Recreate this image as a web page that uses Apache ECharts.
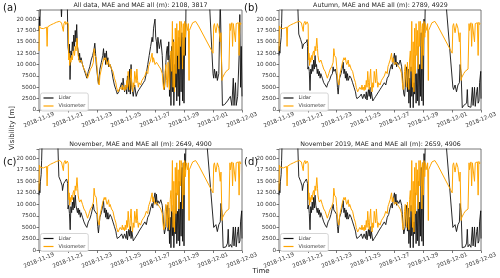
<!DOCTYPE html>
<html><head><meta charset="utf-8">
<script src="https://cdn.jsdelivr.net/npm/echarts@6/dist/echarts.min.js"></script>
<style>html,body{margin:0;padding:0;background:#fff}#c{width:500px;height:278px}</style>
</head><body><div id="c"></div>
<script>
// ---- data (time offsets in days from 2018-11-19 00:00 UTC) ----
const tickDates = ['2018-11-19','2018-11-21','2018-11-23','2018-11-25','2018-11-27','2018-11-29','2018-12-01','2018-12-03'];
const panelTitles = [
  'All data, MAE and MAE all (m): 2108, 3817',
  'Autumn, MAE and MAE all (m): 2789, 4929',
  'November, MAE and MAE all (m): 2649, 4900',
  'November 2019, MAE and MAE all (m): 2659, 4906'
];
const panelLetters = ['(a)','(b)','(c)','(d)'];
const seriesNames = ['Lidar','Visiometer'];

const visT = [0,0.03,0.1,0.2,0.3,0.4,0.52,0.56,0.6,0.8,1.0,1.2,1.4,1.55,1.62,1.68,1.72,1.8,1.85,1.9,1.95,2.02,
  2.05,2.08,2.12,2.15,2.2,2.25,2.3,2.35,2.4,2.45,2.5,2.55,2.62,2.67,2.7,2.75,2.8,2.9,3.0,3.1,3.2,3.3,3.35,3.45,3.55,3.65,3.75,3.8,3.85,
  3.95,4.0,4.05,4.1,4.15,4.2,4.3,4.4,4.5,4.55,4.6,4.65,4.7,4.8,4.85,4.9,5.0,5.1,5.2,5.3,5.35,5.4,5.45,5.5,5.6,5.7,5.75,5.8,5.85,5.9,5.95,
  6.0,6.05,6.1,6.15,6.2,6.25,6.3,6.35,6.4,6.45,6.5,6.55,6.6,6.7,6.75,6.8,6.85,6.9,7.0,7.1,7.2,7.3,7.4,7.5,7.55,7.6,7.7,7.8,7.85,7.9,8.0,
  8.1,8.2,8.3,8.4,8.5,8.55,8.6,8.65,8.7,8.75,8.8,8.85,8.9,8.95,9.0,9.05,9.1,9.15,9.2,9.25,9.3,9.35,9.4,9.45,9.5,9.55,9.6,9.65,9.7,9.75,
  9.8,9.85,9.9,9.95,10.0,10.05,10.1,10.15,10.2,10.25,10.3,10.35,10.37,10.4,10.5,10.6,10.8,11.0,12.0,12.05,12.1,12.2,12.3,12.4,12.5,12.55,
  12.62,12.64,12.8,12.9,13.1,13.17,13.2,13.3,13.35,13.4,13.45,13.55,13.6,13.65,13.75,13.8,13.85,13.9,13.95,14.0];
const visV = [13000,18500,18000,18300,17900,17700,18200,14000,18300,18700,19000,19300,19500,19200,19000,17300,19000,19500,18800,19200,19400,18900,
  11000,12500,9800,11500,10500,12000,11000,12500,13000,12000,14000,13000,15800,13500,12000,11000,10500,11000,10000,9000,8500,7500,7000,8000,9000,9500,10500,13500,12000,
  11500,9500,7000,6000,5500,7500,9000,10500,11500,11000,11500,10500,10000,11000,9500,10000,9000,8500,7000,6000,5000,4500,4000,4200,5000,4500,5500,4500,5000,4300,
  5500,4500,6500,5000,8500,6000,4500,7000,9000,5500,4000,6000,5000,8500,6000,9000,6500,5000,6000,5500,6500,7000,7500,8500,8000,9500,10000,11000,12500,10500,11500,
  10000,10500,10000,9500,9000,8000,6000,4500,5000,8500,10000,6500,5000,10500,7000,4500,11000,13000,8500,19500,5000,15000,4000,18000,8000,19000,12000,17500,9000,19500,
  14000,19500,18000,9000,19000,12000,19500,16000,19000,19000,17500,19000,6500,17500,17500,18500,19200,19500,18500,12500,18500,19000,17000,19000,18000,15000,
  17000,6500,7000,8000,8500,9000,19000,17500,19200,14000,19000,19200,15000,19000,19000,19200,12000,19300,18800,19000];

const lidAT = [0,0.03,0.06,0.1,1.5,1.55,1.6,1.95,2.0,2.05,2.1,2.14,2.2,2.25,2.3,2.35,2.4,2.45,2.5,2.55,2.6,2.65,2.7,2.75,2.8,2.85,2.9,3.0,3.1,3.2,3.3,
  3.4,3.5,3.6,3.7,3.8,3.85,3.9,3.95,4.05,4.1,4.15,4.2,4.3,4.4,4.45,4.5,4.55,4.6,4.65,4.7,4.75,4.8,4.9,5.0,5.1,5.2,5.3,5.35,5.4,5.5,5.6,5.7,5.75,
  5.8,5.9,6.0,6.05,6.1,6.2,6.25,6.3,6.35,6.4,6.5,6.6,6.7,6.8,6.9,7.0,7.1,7.2,7.3,7.4,7.5,7.6,7.7,7.8,7.85,7.9,8.0,8.05,8.1,8.15,8.2,8.3,8.4,8.5,
  8.55,8.6,8.65,8.7,8.75,8.8,8.85,8.9,8.95,9.0,9.05,9.1,9.15,9.2,9.25,9.3,9.35,9.4,9.45,9.5,9.55,9.6,9.65,9.7,9.75,9.8,9.85,9.9,9.95,10.0,10.05,
  10.1,10.14,11.75,12.0,12.05,12.1,12.2,12.25,12.3,12.4,12.5,12.55,12.65,12.8,12.9,13.0,13.1,13.2,13.3,13.4,13.45,13.55,13.6,13.7,13.8,13.85,13.9,13.95,14.0];
const lidAV = [17500,20500,18500,24000,24000,20500,24000,24000,14000,12500,14500,6700,13000,12000,15000,13000,16500,14000,17500,15000,18800,14000,13000,11000,12500,10500,11500,10000,9000,8000,7000,
  8500,9500,11000,12000,13500,14700,12500,10000,7000,5700,7500,9000,10500,12000,13500,11000,12500,10000,13000,10500,11500,9500,10000,9000,7000,5500,4500,4000,3500,4000,5000,6000,4500,
  7000,4000,5500,3500,7500,4000,9000,3500,10000,5000,3000,5500,3000,4000,4500,5000,5500,6000,6500,8000,10000,12000,14000,16000,15000,18000,20000,16000,15000,12500,16000,13500,15500,12000,
  8000,5000,4500,7000,10500,13000,14000,11000,15000,3000,12000,1000,14000,4000,15500,1000,10000,5000,15000,2000,12000,3000,16000,1000,14000,4000,17000,2000,16000,1500,17000,
  12000,24000,24000,8000,7000,9000,7000,8500,6500,8000,24000,24000,1000,1200,1500,2000,2500,3000,1000,7000,1000,6000,1000,3000,12000,21000,5000,14000,3000];

const lidBT = [0,0.03,0.06,0.1,0.15,0.18,0.22,1.29,1.37,1.5,1.6,1.62,1.7,1.8,1.9,1.95,1.98,2.0,2.05,2.1,2.15,2.2,2.25,2.3,2.35,2.4,2.45,2.5,2.55,2.6,2.65,
  2.7,2.75,2.8,2.85,2.9,3.0,3.1,3.2,3.3,3.4,3.5,3.6,3.7,3.75,3.8,3.9,4.0,4.05,4.1,4.15,4.2,4.3,4.4,4.45,4.5,4.55,4.6,4.65,4.7,4.75,4.8,4.9,5.0,
  5.1,5.2,5.3,5.35,5.4,5.5,5.6,5.7,5.8,5.9,6.0,6.05,6.1,6.2,6.25,6.3,6.35,6.4,6.5,6.6,6.7,6.8,6.9,7.0,7.1,7.2,7.3,7.4,7.5,7.6,7.7,7.8,7.85,7.9,
  8.0,8.05,8.1,8.15,8.2,8.3,8.4,8.5,8.55,8.6,8.65,8.7,8.75,8.8,8.85,8.9,8.95,9.0,9.05,9.1,9.15,9.2,9.25,9.3,9.35,9.4,9.45,9.5,9.55,9.6,9.65,9.7,
  9.75,9.8,9.85,9.9,9.95,10.0,10.05,10.1,10.14,11.56,12.05,12.1,12.2,12.3,12.4,12.5,12.55,12.62,12.7,12.8,12.9,13.0,13.05,13.1,13.2,13.3,13.4,
  13.45,13.55,13.6,13.7,13.75,13.8,13.86,13.9,13.98,14.0];
const lidBV = [12000,14000,12500,14500,16000,19000,24000,24000,16700,15500,14500,13500,14500,14800,15000,15500,14000,9000,9500,8500,4300,9000,8000,10000,8500,11000,9000,12000,9500,10000,8000,
  9000,7500,8500,7000,8000,7000,6000,5500,5000,6000,6500,7500,8000,9500,8500,9000,7500,5000,3500,5500,7000,8000,9500,10500,8000,9000,7000,8500,6500,8000,6500,7500,7000,
  6000,5000,4000,3000,2500,2200,3000,3500,2500,3500,2500,4000,2200,4500,3000,5000,2500,4000,2000,2500,3000,3500,4000,4500,5000,5500,6000,5500,7000,7500,9000,10000,9000,10500,
  12500,10000,12000,9500,10500,10000,11000,9500,7500,5000,3500,3000,5000,8500,9500,4000,9000,1500,7000,500,9500,3000,8000,500,6000,3500,12000,1500,8000,2000,14000,1000,
  10000,3000,17000,2000,18000,1000,20000,17000,24000,24000,5000,4500,5500,4000,5500,6000,10000,8000,500,1000,800,1500,4500,800,1200,600,5000,
  1000,5000,800,4000,5000,1500,2000,6000,8500,2500];

const lidCV = [12000,14500,12500,15000,16500,19500,24000,24000,16000,15000,14000,13000,14500,15000,15500,15800,14500,9000,9800,8000,4500,9500,8200,10500,8800,11500,9200,12000,9800,10200,8200,
  9200,7800,8800,7200,8200,7200,6200,5500,5000,6200,6800,7800,8200,10000,8800,9200,7800,5200,3800,5500,7200,8200,9800,10800,8200,9200,7200,8800,6800,8200,6800,7800,7200,
  6200,5200,4200,3200,2600,2300,3100,3600,2600,3600,2600,4200,2300,4600,3100,5200,2600,4200,2100,2600,3100,3600,4200,4600,5200,5600,6200,5600,7200,7800,9200,10200,9200,10800,
  12500,10200,12200,9800,10800,10200,11000,9800,7800,5200,3600,3200,5200,8800,9800,4200,9200,1500,7200,600,9800,3200,8200,600,6200,3600,12500,1500,8500,2100,15000,1000,
  10500,3100,18000,2000,19000,1000,21000,17500,24000,24000,5000,4600,5600,4100,5600,6200,10200,8200,600,1000,800,1600,4600,800,1300,700,5100,
  1000,5100,800,4100,5100,1600,2100,6200,8600,2600];
const lidDV = lidCV;

const panelLidar = [[lidAT, lidAV],[lidBT, lidBV],[lidBT, lidCV],[lidBT, lidDV]];

// ---- chart ----
const DAY = 86400000;
const base = Date.UTC(2018,10,19);
const FONT = '"DejaVu Sans", sans-serif';
const toPts = (T, V) => T.map((t,i) => [base + t*DAY, V[i]]);

const grids = [
  {left:39, top:10, width:203, height:100},
  {left:279, top:10, width:203, height:100},
  {left:39, top:149, width:203, height:101.5},
  {left:279, top:149, width:203, height:101.5}
];
function fmtDate(v){
  const d = new Date(v);
  const p = n => (n<10?'0':'')+n;
  return d.getUTCFullYear()+'-'+p(d.getUTCMonth()+1)+'-'+p(d.getUTCDate());
}
function fmtY(v){
  if (v > 20000) return '';
  if (v >= 10000) return String(v).replace(/\B(?=(\d{3})+(?!\d))/g,' ');
  return String(v);
}

const option = {
  animation: false,
  backgroundColor: '#fff',
  grid: grids.map(g => Object.assign({show:true, borderColor:'#555', borderWidth:0.8, backgroundColor:'transparent'}, g)),
  xAxis: grids.map((g,i) => ({
    type:'value', gridIndex:i, min: base, max: base + 14*DAY, interval: 2*DAY,
    axisLine:{show:false}, splitLine:{show:false},
    axisTick:{show:true, length:2.5, lineStyle:{color:'#555', width:0.8}},
    axisLabel:{formatter: fmtDate, rotate: 22, align:'center', verticalAlign:'middle', margin: 10,
      fontSize: 5.6, color:'#333', fontFamily: FONT, showMinLabel:true, showMaxLabel:true, hideOverlap:false}
  })),
  yAxis: grids.map((g,i) => ({
    type:'value', gridIndex:i, min:0, max:22000, interval:2500,
    axisLine:{show:false}, splitLine:{show:false},
    axisTick:{show:true, length:2.5, lineStyle:{color:'#555', width:0.8}},
    axisLabel:{formatter: fmtY, fontSize:5.6, color:'#333', fontFamily: FONT, margin:3}
  })),
  legend: grids.map((g,i) => ({
    data: seriesNames, orient:'vertical', left: g.left + 1.5, top: g.top + g.height - 17,
    icon: 'rect', itemWidth: 10, itemHeight: 1.2, itemGap: 3, padding:[2.5,3,2.5,3],
    borderColor:'#ccc', borderWidth:0.8, borderRadius:2, backgroundColor:'rgba(255,255,255,0.85)',
    textStyle:{fontSize:5, color:'#333', fontFamily: FONT}, selectedMode:false
  })),
  series: [],
  graphic: []
};

panelLidar.forEach((pl,i) => {
  option.series.push({
    name: seriesNames[0], type:'line', xAxisIndex:i, yAxisIndex:i,
    data: toPts(pl[0], pl[1]), showSymbol:false, symbol:'none', clip:true,
    lineStyle:{color:'#111', width:0.9}, itemStyle:{color:'#111'}
  });
  option.series.push({
    name: seriesNames[1], type:'line', xAxisIndex:i, yAxisIndex:i,
    data: toPts(visT, visV), showSymbol:false, symbol:'none', clip:true,
    lineStyle:{color:'#FFA500', width:1}, itemStyle:{color:'#FFA500'}
  });
  const g = grids[i];
  option.graphic.push({type:'text', x: g.left + g.width/2, y: g.top - 5,
    style:{text: panelTitles[i], fill:'#222', font:'6.3px '+FONT, align:'center', verticalAlign:'middle'}});
  option.graphic.push({type:'text', x: i%2===0 ? 3 : 244, y: i<2 ? 8 : 162,
    style:{text: panelLetters[i], fill:'#111', font:'10px '+FONT, align:'left', verticalAlign:'middle'}});
});
option.graphic.push({type:'text', x: 12, y: 128, rotation: Math.PI/2,
  style:{text:'Visibility [m]', fill:'#222', font:'7px '+FONT, align:'center', verticalAlign:'middle'}});
option.graphic.push({type:'text', x: 261, y: 271.5,
  style:{text:'Time', fill:'#222', font:'7px '+FONT, align:'center', verticalAlign:'middle'}});

const chart = echarts.init(document.getElementById('c'));
chart.setOption(option);
</script></body></html>
